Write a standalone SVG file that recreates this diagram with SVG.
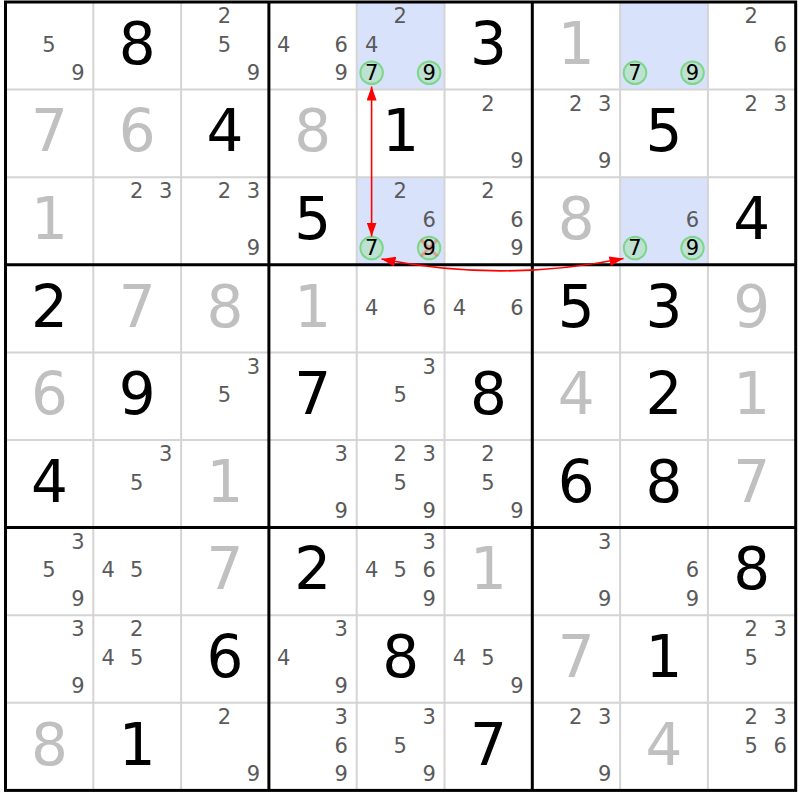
<svg xmlns="http://www.w3.org/2000/svg" width="800" height="800" viewBox="0 0 800 800">
<style>
text{font-family:"DejaVu Sans","Liberation Sans",sans-serif;text-anchor:middle}
.g{font-size:58px;fill:#000}
.s{font-size:58px;fill:#c0c0c0}
.c{font-size:21px;fill:#5a5a5a}
.k{font-size:21px;fill:#000}
.hl{fill:#d9e2fb}
.ring{fill:#a6e2b0;fill-opacity:0.55;stroke:#7ed68a;stroke-width:2}
.thin{stroke:#d4d4d4;stroke-width:2}
.thick{stroke:#000;stroke-width:3}
.arrow{fill:none;stroke:#f00;stroke-width:1.6}
.x{stroke:#ff5050;stroke-opacity:0.45;stroke-width:3}
</style>
<defs>
<marker id="ah" markerUnits="userSpaceOnUse" markerWidth="15" markerHeight="10" refX="14" refY="5" orient="auto-start-reverse" viewBox="0 0 15 10">
<path d="M0,0 L14,5 L0,10 z" fill="#f00"/>
</marker>
</defs>
<rect width="800" height="800" fill="#fff"/>
<g id="highlights">
<rect class="hl" x="356.7" y="2" width="87.8" height="87.6"/>
<rect class="hl" x="356.7" y="177.2" width="87.8" height="87.6"/>
<rect class="hl" x="620.1" y="2" width="87.8" height="87.6"/>
<rect class="hl" x="620.1" y="177.2" width="87.8" height="87.6"/>
</g>
<g id="gridlines">
<path class="thin" d="M93.3,2V790.4M181.1,2V790.4M356.7,2V790.4M444.5,2V790.4M620.1,2V790.4M707.9,2V790.4M5.5,89.6H795.7M5.5,177.2H795.7M5.5,352.4H795.7M5.5,440H795.7M5.5,615.2H795.7M5.5,702.8H795.7"/>
<path class="thick" d="M268.9,2V790.4M532.3,2V790.4M5.5,264.8H795.7M5.5,527.6H795.7"/>
<rect x="5.5" y="2" width="790.2" height="788.4" fill="none" stroke="#000" stroke-width="3"/>
</g>
<!-- Row 0 -->
<g id="r0c0" transform="translate(5.5,2)"><text class="c" x="43.4" y="49.8">5</text><text class="c" x="72.4" y="78.3">9</text></g>
<g id="r0c1" transform="translate(93.3,2)"><text class="g" x="43.9" y="61.8">8</text></g>
<g id="r0c2" transform="translate(181.1,2)"><text class="c" x="43.4" y="21.3">2</text><text class="c" x="43.4" y="49.8">5</text><text class="c" x="72.4" y="78.3">9</text></g>
<g id="r0c3" transform="translate(268.9,2)"><text class="c" x="14.9" y="49.8">4</text><text class="c" x="72.4" y="49.8">6</text><text class="c" x="72.4" y="78.3">9</text></g>
<g id="r0c4" transform="translate(356.7,2)"><text class="c" x="43.4" y="21.3">2</text><text class="c" x="14.9" y="49.8">4</text><circle class="ring" cx="14.9" cy="70.8" r="11.3"/><text class="k" x="14.9" y="78.3">7</text><circle class="ring" cx="72.4" cy="70.8" r="11.3"/><text class="k" x="72.4" y="78.3">9</text></g>
<g id="r0c5" transform="translate(444.5,2)"><text class="g" x="43.9" y="61.8">3</text></g>
<g id="r0c6" transform="translate(532.3,2)"><text class="s" x="43.9" y="61.8">1</text></g>
<g id="r0c7" transform="translate(620.1,2)"><circle class="ring" cx="14.9" cy="70.8" r="11.3"/><text class="k" x="14.9" y="78.3">7</text><circle class="ring" cx="72.4" cy="70.8" r="11.3"/><text class="k" x="72.4" y="78.3">9</text></g>
<g id="r0c8" transform="translate(707.9,2)"><text class="c" x="43.4" y="21.3">2</text><text class="c" x="72.4" y="49.8">6</text></g>
<!-- Row 1 -->
<g id="r1c0" transform="translate(5.5,89.6)"><text class="s" x="43.9" y="61.8">7</text></g>
<g id="r1c1" transform="translate(93.3,89.6)"><text class="s" x="43.9" y="61.8">6</text></g>
<g id="r1c2" transform="translate(181.1,89.6)"><text class="g" x="43.9" y="61.8">4</text></g>
<g id="r1c3" transform="translate(268.9,89.6)"><text class="s" x="43.9" y="61.8">8</text></g>
<g id="r1c4" transform="translate(356.7,89.6)"><text class="g" x="43.9" y="61.8">1</text></g>
<g id="r1c5" transform="translate(444.5,89.6)"><text class="c" x="43.4" y="21.3">2</text><text class="c" x="72.4" y="78.3">9</text></g>
<g id="r1c6" transform="translate(532.3,89.6)"><text class="c" x="43.4" y="21.3">2</text><text class="c" x="72.4" y="21.3">3</text><text class="c" x="72.4" y="78.3">9</text></g>
<g id="r1c7" transform="translate(620.1,89.6)"><text class="g" x="43.9" y="61.8">5</text></g>
<g id="r1c8" transform="translate(707.9,89.6)"><text class="c" x="43.4" y="21.3">2</text><text class="c" x="72.4" y="21.3">3</text></g>
<!-- Row 2 -->
<g id="r2c0" transform="translate(5.5,177.2)"><text class="s" x="43.9" y="61.8">1</text></g>
<g id="r2c1" transform="translate(93.3,177.2)"><text class="c" x="43.4" y="21.3">2</text><text class="c" x="72.4" y="21.3">3</text></g>
<g id="r2c2" transform="translate(181.1,177.2)"><text class="c" x="43.4" y="21.3">2</text><text class="c" x="72.4" y="21.3">3</text><text class="c" x="72.4" y="78.3">9</text></g>
<g id="r2c3" transform="translate(268.9,177.2)"><text class="g" x="43.9" y="61.8">5</text></g>
<g id="r2c4" transform="translate(356.7,177.2)"><text class="c" x="43.4" y="21.3">2</text><text class="c" x="72.4" y="49.8">6</text><circle class="ring" cx="14.9" cy="70.8" r="11.3"/><text class="k" x="14.9" y="78.3">7</text><circle class="ring" cx="72.4" cy="70.8" r="11.3"/><path class="x" d="M64.4,62.8L80.4,78.8M80.4,62.8L64.4,78.8"/><text class="k" x="72.4" y="78.3">9</text></g>
<g id="r2c5" transform="translate(444.5,177.2)"><text class="c" x="43.4" y="21.3">2</text><text class="c" x="72.4" y="49.8">6</text><text class="c" x="72.4" y="78.3">9</text></g>
<g id="r2c6" transform="translate(532.3,177.2)"><text class="s" x="43.9" y="61.8">8</text></g>
<g id="r2c7" transform="translate(620.1,177.2)"><text class="c" x="72.4" y="49.8">6</text><circle class="ring" cx="14.9" cy="70.8" r="11.3"/><text class="k" x="14.9" y="78.3">7</text><circle class="ring" cx="72.4" cy="70.8" r="11.3"/><text class="k" x="72.4" y="78.3">9</text></g>
<g id="r2c8" transform="translate(707.9,177.2)"><text class="g" x="43.9" y="61.8">4</text></g>
<!-- Row 3 -->
<g id="r3c0" transform="translate(5.5,264.8)"><text class="g" x="43.9" y="61.8">2</text></g>
<g id="r3c1" transform="translate(93.3,264.8)"><text class="s" x="43.9" y="61.8">7</text></g>
<g id="r3c2" transform="translate(181.1,264.8)"><text class="s" x="43.9" y="61.8">8</text></g>
<g id="r3c3" transform="translate(268.9,264.8)"><text class="s" x="43.9" y="61.8">1</text></g>
<g id="r3c4" transform="translate(356.7,264.8)"><text class="c" x="14.9" y="49.8">4</text><text class="c" x="72.4" y="49.8">6</text></g>
<g id="r3c5" transform="translate(444.5,264.8)"><text class="c" x="14.9" y="49.8">4</text><text class="c" x="72.4" y="49.8">6</text></g>
<g id="r3c6" transform="translate(532.3,264.8)"><text class="g" x="43.9" y="61.8">5</text></g>
<g id="r3c7" transform="translate(620.1,264.8)"><text class="g" x="43.9" y="61.8">3</text></g>
<g id="r3c8" transform="translate(707.9,264.8)"><text class="s" x="43.9" y="61.8">9</text></g>
<!-- Row 4 -->
<g id="r4c0" transform="translate(5.5,352.4)"><text class="s" x="43.9" y="61.8">6</text></g>
<g id="r4c1" transform="translate(93.3,352.4)"><text class="g" x="43.9" y="61.8">9</text></g>
<g id="r4c2" transform="translate(181.1,352.4)"><text class="c" x="72.4" y="21.3">3</text><text class="c" x="43.4" y="49.8">5</text></g>
<g id="r4c3" transform="translate(268.9,352.4)"><text class="g" x="43.9" y="61.8">7</text></g>
<g id="r4c4" transform="translate(356.7,352.4)"><text class="c" x="72.4" y="21.3">3</text><text class="c" x="43.4" y="49.8">5</text></g>
<g id="r4c5" transform="translate(444.5,352.4)"><text class="g" x="43.9" y="61.8">8</text></g>
<g id="r4c6" transform="translate(532.3,352.4)"><text class="s" x="43.9" y="61.8">4</text></g>
<g id="r4c7" transform="translate(620.1,352.4)"><text class="g" x="43.9" y="61.8">2</text></g>
<g id="r4c8" transform="translate(707.9,352.4)"><text class="s" x="43.9" y="61.8">1</text></g>
<!-- Row 5 -->
<g id="r5c0" transform="translate(5.5,440)"><text class="g" x="43.9" y="61.8">4</text></g>
<g id="r5c1" transform="translate(93.3,440)"><text class="c" x="72.4" y="21.3">3</text><text class="c" x="43.4" y="49.8">5</text></g>
<g id="r5c2" transform="translate(181.1,440)"><text class="s" x="43.9" y="61.8">1</text></g>
<g id="r5c3" transform="translate(268.9,440)"><text class="c" x="72.4" y="21.3">3</text><text class="c" x="72.4" y="78.3">9</text></g>
<g id="r5c4" transform="translate(356.7,440)"><text class="c" x="43.4" y="21.3">2</text><text class="c" x="72.4" y="21.3">3</text><text class="c" x="43.4" y="49.8">5</text><text class="c" x="72.4" y="78.3">9</text></g>
<g id="r5c5" transform="translate(444.5,440)"><text class="c" x="43.4" y="21.3">2</text><text class="c" x="43.4" y="49.8">5</text><text class="c" x="72.4" y="78.3">9</text></g>
<g id="r5c6" transform="translate(532.3,440)"><text class="g" x="43.9" y="61.8">6</text></g>
<g id="r5c7" transform="translate(620.1,440)"><text class="g" x="43.9" y="61.8">8</text></g>
<g id="r5c8" transform="translate(707.9,440)"><text class="s" x="43.9" y="61.8">7</text></g>
<!-- Row 6 -->
<g id="r6c0" transform="translate(5.5,527.6)"><text class="c" x="72.4" y="21.3">3</text><text class="c" x="43.4" y="49.8">5</text><text class="c" x="72.4" y="78.3">9</text></g>
<g id="r6c1" transform="translate(93.3,527.6)"><text class="c" x="14.9" y="49.8">4</text><text class="c" x="43.4" y="49.8">5</text></g>
<g id="r6c2" transform="translate(181.1,527.6)"><text class="s" x="43.9" y="61.8">7</text></g>
<g id="r6c3" transform="translate(268.9,527.6)"><text class="g" x="43.9" y="61.8">2</text></g>
<g id="r6c4" transform="translate(356.7,527.6)"><text class="c" x="72.4" y="21.3">3</text><text class="c" x="14.9" y="49.8">4</text><text class="c" x="43.4" y="49.8">5</text><text class="c" x="72.4" y="49.8">6</text><text class="c" x="72.4" y="78.3">9</text></g>
<g id="r6c5" transform="translate(444.5,527.6)"><text class="s" x="43.9" y="61.8">1</text></g>
<g id="r6c6" transform="translate(532.3,527.6)"><text class="c" x="72.4" y="21.3">3</text><text class="c" x="72.4" y="78.3">9</text></g>
<g id="r6c7" transform="translate(620.1,527.6)"><text class="c" x="72.4" y="49.8">6</text><text class="c" x="72.4" y="78.3">9</text></g>
<g id="r6c8" transform="translate(707.9,527.6)"><text class="g" x="43.9" y="61.8">8</text></g>
<!-- Row 7 -->
<g id="r7c0" transform="translate(5.5,615.2)"><text class="c" x="72.4" y="21.3">3</text><text class="c" x="72.4" y="78.3">9</text></g>
<g id="r7c1" transform="translate(93.3,615.2)"><text class="c" x="43.4" y="21.3">2</text><text class="c" x="14.9" y="49.8">4</text><text class="c" x="43.4" y="49.8">5</text></g>
<g id="r7c2" transform="translate(181.1,615.2)"><text class="g" x="43.9" y="61.8">6</text></g>
<g id="r7c3" transform="translate(268.9,615.2)"><text class="c" x="72.4" y="21.3">3</text><text class="c" x="14.9" y="49.8">4</text><text class="c" x="72.4" y="78.3">9</text></g>
<g id="r7c4" transform="translate(356.7,615.2)"><text class="g" x="43.9" y="61.8">8</text></g>
<g id="r7c5" transform="translate(444.5,615.2)"><text class="c" x="14.9" y="49.8">4</text><text class="c" x="43.4" y="49.8">5</text><text class="c" x="72.4" y="78.3">9</text></g>
<g id="r7c6" transform="translate(532.3,615.2)"><text class="s" x="43.9" y="61.8">7</text></g>
<g id="r7c7" transform="translate(620.1,615.2)"><text class="g" x="43.9" y="61.8">1</text></g>
<g id="r7c8" transform="translate(707.9,615.2)"><text class="c" x="43.4" y="21.3">2</text><text class="c" x="72.4" y="21.3">3</text><text class="c" x="43.4" y="49.8">5</text></g>
<!-- Row 8 -->
<g id="r8c0" transform="translate(5.5,702.8)"><text class="s" x="43.9" y="61.8">8</text></g>
<g id="r8c1" transform="translate(93.3,702.8)"><text class="g" x="43.9" y="61.8">1</text></g>
<g id="r8c2" transform="translate(181.1,702.8)"><text class="c" x="43.4" y="21.3">2</text><text class="c" x="72.4" y="78.3">9</text></g>
<g id="r8c3" transform="translate(268.9,702.8)"><text class="c" x="72.4" y="21.3">3</text><text class="c" x="72.4" y="49.8">6</text><text class="c" x="72.4" y="78.3">9</text></g>
<g id="r8c4" transform="translate(356.7,702.8)"><text class="c" x="72.4" y="21.3">3</text><text class="c" x="43.4" y="49.8">5</text><text class="c" x="72.4" y="78.3">9</text></g>
<g id="r8c5" transform="translate(444.5,702.8)"><text class="g" x="43.9" y="61.8">7</text></g>
<g id="r8c6" transform="translate(532.3,702.8)"><text class="c" x="43.4" y="21.3">2</text><text class="c" x="72.4" y="21.3">3</text><text class="c" x="72.4" y="78.3">9</text></g>
<g id="r8c7" transform="translate(620.1,702.8)"><text class="s" x="43.9" y="61.8">4</text></g>
<g id="r8c8" transform="translate(707.9,702.8)"><text class="c" x="43.4" y="21.3">2</text><text class="c" x="72.4" y="21.3">3</text><text class="c" x="43.4" y="49.8">5</text><text class="c" x="72.4" y="49.8">6</text></g>
<g id="connectors">
<path class="arrow" d="M371.6,86.5V236.5" marker-start="url(#ah)" marker-end="url(#ah)"/>
<path class="arrow" d="M381.5,259Q502,283 623.5,258.5" marker-start="url(#ah)" marker-end="url(#ah)"/>
</g>
</svg>
